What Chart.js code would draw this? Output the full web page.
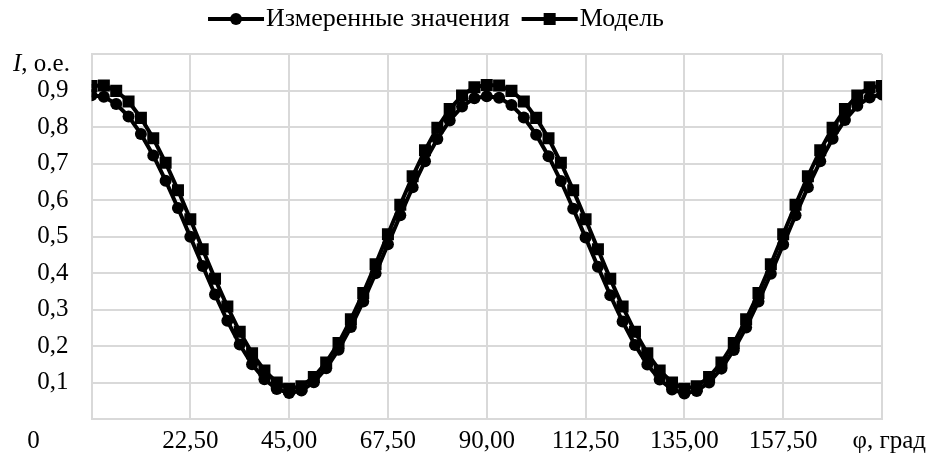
<!DOCTYPE html>
<html lang="ru">
<head>
<meta charset="UTF-8">
<title>I(φ)</title>
<script src="https://cdn.jsdelivr.net/npm/chart.js"></script>
<style>
  html, body { margin: 0; padding: 0; background: #fff; }
  canvas { display: block; }
</style>
</head>
<body>
<canvas id="chart" width="928" height="457"></canvas>
<script>
// угол φ, град
const phi = [0, 2.8125, 5.625, 8.4375, 11.25, 14.0625, 16.875, 19.6875, 22.5, 25.3125, 28.125, 30.9375,
  33.75, 36.5625, 39.375, 42.1875, 45, 47.8125, 50.625, 53.4375, 56.25, 59.0625, 61.875, 64.6875,
  67.5, 70.3125, 73.125, 75.9375, 78.75, 81.5625, 84.375, 87.1875, 90, 92.8125, 95.625, 98.4375,
  101.25, 104.0625, 106.875, 109.6875, 112.5, 115.3125, 118.125, 120.9375, 123.75, 126.5625, 129.375,
  132.1875, 135, 137.8125, 140.625, 143.4375, 146.25, 149.0625, 151.875, 154.6875, 157.5, 160.3125,
  163.125, 165.9375, 168.75, 171.5625, 174.375, 177.1875, 180];

// Измеренные значения
const measured = [0.887, 0.883, 0.863, 0.829, 0.781, 0.722, 0.653, 0.578, 0.499, 0.419, 0.341, 0.269,
  0.204, 0.150, 0.109, 0.082, 0.071, 0.078, 0.101, 0.139, 0.190, 0.252, 0.322, 0.399,
  0.479, 0.558, 0.635, 0.706, 0.767, 0.818, 0.856, 0.879, 0.884, 0.880, 0.860, 0.826,
  0.779, 0.720, 0.652, 0.576, 0.497, 0.417, 0.339, 0.267, 0.203, 0.149, 0.108,
  0.081, 0.070, 0.077, 0.100, 0.138, 0.189, 0.251, 0.322, 0.398, 0.478, 0.558,
  0.635, 0.706, 0.768, 0.819, 0.858, 0.881, 0.889];

// Модель
const model = [0.912, 0.914, 0.899, 0.870, 0.825, 0.769, 0.702, 0.627, 0.547, 0.465, 0.384, 0.308,
  0.239, 0.180, 0.133, 0.100, 0.083, 0.090, 0.115, 0.155, 0.208, 0.273, 0.345, 0.424,
  0.506, 0.587, 0.665, 0.736, 0.798, 0.849, 0.886, 0.909, 0.915, 0.914, 0.899, 0.870,
  0.825, 0.769, 0.702, 0.627, 0.547, 0.465, 0.384, 0.308, 0.239, 0.180, 0.133,
  0.100, 0.083, 0.090, 0.115, 0.155, 0.208, 0.273, 0.345, 0.424, 0.506, 0.587,
  0.665, 0.736, 0.798, 0.849, 0.886, 0.909, 0.912];

const seriesNames = ["Измеренные значения", "Модель"];
const xTicks = [0, 22.5, 45, 67.5, 90, 112.5, 135, 157.5];
const xTickLabels = ["0", "22,50", "45,00", "67,50", "90,00", "112,50", "135,00", "157,50"];
const yTickLabels = ["0,1", "0,2", "0,3", "0,4", "0,5", "0,6", "0,7", "0,8", "0,9"];

const FONT = "'Liberation Serif', 'Times New Roman', serif";
const GRID = "#d9d9d9";

const xy = (ys) => phi.map((p, i) => ({ x: p, y: ys[i] }));

const extraText = {
  id: "extraText",
  afterDraw(chart) {
    const ctx = chart.ctx;
    const xs = chart.scales.x;
    ctx.save();
    ctx.fillStyle = "#000";

    // подписи оси X (под линиями сетки; "0" вынесен левее оси, как в оригинале)
    ctx.font = "25px " + FONT;
    ctx.textBaseline = "middle";
    ctx.textAlign = "center";
    xTicks.forEach((v, i) => {
      let px = xs.getPixelForValue(v);
      if (v === 0) px -= 58;
      ctx.fillText(xTickLabels[i], px, 441);
    });
    ctx.textAlign = "right";
    ctx.fillText("φ, град", 926, 441);

    // I, o.e.
    ctx.textAlign = "left";
    ctx.font = "italic 25px " + FONT;
    ctx.fillText("I", 13, 64);
    const w = ctx.measureText("I").width;
    ctx.font = "25px " + FONT;
    ctx.fillText(", o.e.", 13 + w, 64);

    // легенда: линия с маркером + текст
    ctx.font = "26px " + FONT;
    const segW = 56, gap = 2, between = 12;
    const tw = seriesNames.map(n => ctx.measureText(n).width);
    const total = segW * 2 + gap * 2 + tw[0] + tw[1] + between;
    let x = 436 - total / 2;
    const ly = 19;
    chart.data.datasets.forEach((ds, i) => {
      ctx.strokeStyle = "#000";
      ctx.lineWidth = ds.borderWidth;
      ctx.beginPath();
      ctx.moveTo(x, ly);
      ctx.lineTo(x + segW, ly);
      ctx.stroke();
      const cx = x + segW / 2;
      ctx.beginPath();
      if (ds.pointStyle === "rect") {
        const s = ds.pointRadius * Math.SQRT1_2;
        ctx.rect(cx - s, ly - s, 2 * s, 2 * s);
      } else {
        ctx.arc(cx, ly, ds.pointRadius, 0, Math.PI * 2);
      }
      ctx.fill();
      x += segW + gap;
      ctx.fillText(seriesNames[i], x, ly);
      x += tw[i] + between;
    });
    ctx.restore();
  }
};

new Chart(document.getElementById("chart"), {
  type: "line",
  data: {
    datasets: [
      {
        label: seriesNames[0],
        data: xy(measured),
        borderColor: "#000",
        backgroundColor: "#000",
        borderWidth: 4,
        pointStyle: "circle",
        pointRadius: 6,
        pointBorderWidth: 0,
        tension: 0,
        order: 1
      },
      {
        label: seriesNames[1],
        data: xy(model),
        borderColor: "#000",
        backgroundColor: "#000",
        borderWidth: 4,
        pointStyle: "rect",
        pointRadius: 8.5,
        pointBorderWidth: 0,
        tension: 0,
        order: 0
      }
    ]
  },
  options: {
    responsive: false,
    animation: false,
    layout: { padding: { left: 0, top: 54, right: 46, bottom: 0 } },
    plugins: { legend: { display: false }, tooltip: { enabled: false } },
    scales: {
      x: {
        type: "linear",
        min: 0, max: 180,
        ticks: { display: false, stepSize: 22.5 },
        grid: { color: GRID, lineWidth: 2, drawTicks: false },
        border: { color: GRID, width: 2 },
        afterFit: s => { s.height = 36; }
      },
      y: {
        min: 0, max: 1,
        ticks: {
          stepSize: 0.1,
          padding: 23,
          color: "#000",
          font: { family: FONT, size: 25 },
          callback: v => {
            const k = Math.round(v * 10);
            return (k >= 1 && k <= 9) ? yTickLabels[k - 1] : "";
          }
        },
        grid: { color: GRID, lineWidth: 2, drawTicks: false },
        border: { color: GRID, width: 2 },
        afterFit: s => { s.width = 91.5; }
      }
    }
  },
  plugins: [extraText]
});
</script>
</body>
</html>
